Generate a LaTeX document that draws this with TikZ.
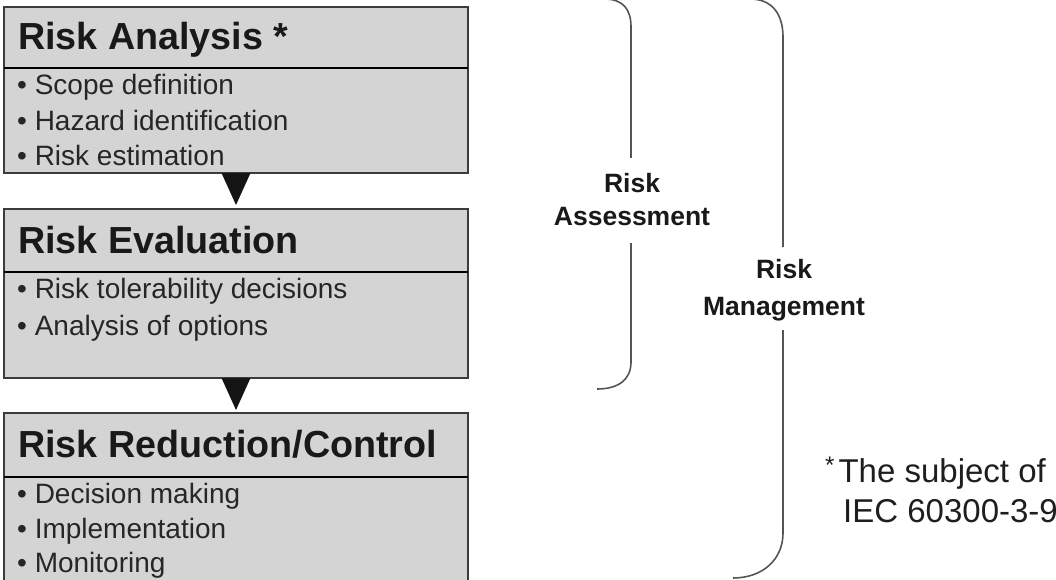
\documentclass[tikz,border=0pt]{standalone}
\usepackage{fontspec}
\setmainfont{Liberation Sans}
\definecolor{boxfill}{RGB}{212,212,212}
\definecolor{boxborder}{RGB}{60,60,60}
\definecolor{bracecol}{RGB}{85,85,85}
\definecolor{footcol}{RGB}{30,30,30}
\begin{document}
\begin{tikzpicture}[x=1pt,y=-1pt,
  box/.style={draw=boxborder, line width=2pt, fill=boxfill, minimum width=464pt,
    anchor=north west, inner sep=0pt, outer sep=0pt},
  divider/.style={draw=black, line width=2.6pt},
  titletext/.style={font=\fontsize{37.7}{44}\selectfont\bfseries, inner sep=0pt, anchor=base west, text=black!90},
  bullettext/.style={font=\fontsize{28}{34}\selectfont, inner sep=0pt, anchor=base west, text=black!85},
  tri/.style={fill=black!92, draw=none},
  brace/.style={draw=bracecol, line width=1.6pt},
  bracelabel/.style={font=\fontsize{26.5}{32}\selectfont\bfseries, inner sep=0pt, anchor=base, text=black!90},
  foottext/.style={font=\fontsize{33}{40}\selectfont, inner sep=0pt, anchor=base west, text=footcol}
]
\useasboundingbox (0,0) rectangle (1056,580);
\clip (0,0) rectangle (1056,580);

% boxes
\node[box, minimum height=166pt] (ra) at (4,7) {};
\node[box, minimum height=169pt] (re) at (4,209) {};
\node[box, minimum height=180pt] (rr) at (4,413) {};

% dividers
\draw[divider] ([yshift=-61pt]ra.north west) -- ([yshift=-61pt]ra.north east);
\draw[divider] ([yshift=-63pt]re.north west) -- ([yshift=-63pt]re.north east);
\draw[divider] ([yshift=-64pt]rr.north west) -- ([yshift=-64pt]rr.north east);

% titles
\node[titletext] (ra-title) at (18,50) {Risk Analysis *};
\node[titletext] (re-title) at (18,253) {Risk Evaluation};
\node[titletext] (rr-title) at (18,457) {Risk Reduction/Control};

% bullets
\node[bullettext] (ra-b1) at (17,95) {• Scope definition};
\node[bullettext] (ra-b2) at (17,131) {• Hazard identification};
\node[bullettext] (ra-b3) at (17,165) {• Risk estimation};
\node[bullettext] (re-b1) at (17,298) {• Risk tolerability decisions};
\node[bullettext] (re-b2) at (17,335) {• Analysis of options};
\node[bullettext] (rr-b1) at (17,503) {• Decision making};
\node[bullettext] (rr-b2) at (17,538) {• Implementation};
\node[bullettext] (rr-b3) at (17,572) {• Monitoring};

% triangle connectors
\fill[tri] ([xshift=-14.5pt]ra.south) -- ([xshift=14.5pt]ra.south) -- ([yshift=4pt]re.north) -- cycle;
\fill[tri] ([xshift=-14.5pt]re.south) -- ([xshift=14.5pt]re.south) -- ([yshift=3pt]rr.north) -- cycle;

% brace labels
\node[bracelabel] (as1) at (632,193) {Risk};
\node[bracelabel] (as2) at (632,225) {Assessment};
\node[bracelabel] (mg1) at (784,278) {Risk};
\node[bracelabel] (mg2) at (784,315) {Management};

% braces
\coordinate (asTop) at (604,-1);
\coordinate (asBot) at (597,389);
\coordinate (mgTop) at (750,-1);
\coordinate (mgBot) at (733,578);
\draw[brace] (asTop) .. controls (623,-1) and (631,9) .. (631,27) -- (631,158);
\draw[brace] (631,243) -- (631,362) .. controls (631,380) and (618,389) .. (asBot);
\draw[brace] (mgTop) .. controls (772,-1) and (783,14) .. (783,37) -- (783,247);
\draw[brace] (783,330) -- (783,533) .. controls (783,560) and (762,578) .. (mgBot);

% footnote
\node[foottext] (fn1) at (825,482) {\raisebox{9pt}{\fontsize{24}{28}\selectfont *}\kern4pt The subject of};
\node[foottext] (fn2) at (843,522) {IEC 60300-3-9};
\end{tikzpicture}
\end{document}
